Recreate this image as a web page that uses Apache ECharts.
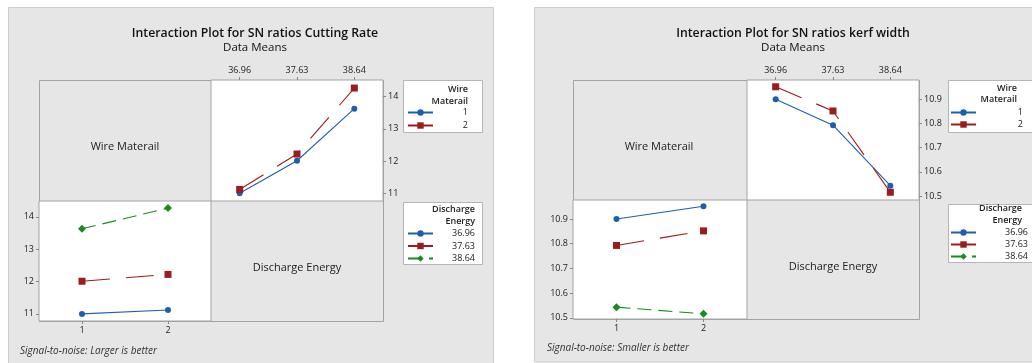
<!DOCTYPE html>
<html><head><meta charset="utf-8">
<script src="https://cdn.jsdelivr.net/npm/echarts@6/dist/echarts.min.js"></script>
<style>html,body{margin:0;padding:0;background:#fff}#c{width:1032px;height:363px}</style>
</head><body><div id="c"></div>
<script>
// ---- data ----
const DE_LEVELS = ['36.96', '37.63', '38.64'];   // Discharge Energy levels
const WM_LEVELS = ['1', '2'];                     // Wire Materail levels
// SN ratios Cutting Rate (means), by wire material, over discharge energy
const CR_WM1 = [11.00, 12.01, 13.63];
const CR_WM2 = [11.12, 12.22, 14.27];
// SN ratios kerf width (means), by wire material, over discharge energy
const KW_WM1 = [10.900, 10.793, 10.543];
const KW_WM2 = [10.952, 10.852, 10.516];
// tick labels
const CR_TICKS = [11, 12, 13, 14];
const KW_TICKS = [10.5, 10.6, 10.7, 10.8, 10.9];

const FONT = '"Open Sans", "Noto Sans", sans-serif';
const BLUE = '#1d5fae', RED = '#9a1c1c', GREEN = '#1b8a22';
const STY = {
  '1':     { color: BLUE, symbol: 'circle', size: 6, type: 'solid' },
  '2':     { color: RED, symbol: 'rect', size: 7, type: [28, 16] },
  '36.96': { color: BLUE, symbol: 'circle', size: 6, type: 'solid' },
  '37.63': { color: RED, symbol: 'rect', size: 7, type: [28, 16] },
  '38.64': { color: GREEN, symbol: 'diamond', size: 8, type: [14, 7] }
};

function mkSeries(name, data, xi) {
  const s = STY[name];
  return {
    type: 'line', name: name, xAxisIndex: xi, yAxisIndex: xi, data: data,
    symbol: s.symbol, symbolSize: s.size, showSymbol: true,
    itemStyle: { color: s.color },
    lineStyle: { color: s.color, width: 1.1, type: s.type },
    animation: false
  };
}
const labelStyle = { fontFamily: FONT, fontSize: 9, color: '#222' };
function catAxis(gi, data, pos) {
  return {
    type: 'category', gridIndex: gi, data: data, position: pos, boundaryGap: true,
    axisLine: { show: false }, splitLine: { show: false },
    axisTick: { show: true, alignWithLabel: true, length: 3, lineStyle: { color: '#888' } },
    axisLabel: Object.assign({ margin: 5 }, labelStyle)
  };
}
function valAxis(gi, pos, min, max, ticks) {
  return {
    type: 'value', gridIndex: gi, position: pos, min: min, max: max, scale: true,
    axisLine: { show: false }, splitLine: { show: false },
    axisTick: { show: true, length: 3, lineStyle: { color: '#888' }, customValues: ticks },
    axisLabel: Object.assign({ margin: 5, customValues: ticks }, labelStyle)
  };
}
const gridStyle = { show: true, backgroundColor: '#fff', borderColor: '#a3a3a3', borderWidth: 1, containLabel: false };

const legendRich = (w) => ({
  formatter: '{a|{name}}',
  textStyle: { rich: { a: { width: w, align: 'right', fontFamily: FONT, fontSize: 9, color: '#222' } } }
});
function mkLegend(names, left, top, w, gap) {
  return Object.assign({
    data: names, orient: 'vertical', left: left, top: top, itemWidth: 25, itemHeight: 8,
    itemGap: gap, padding: 0, selectedMode: false
  }, legendRich(w));
}

function txt(x, y, text, opt) {
  return { type: 'text', x: x, y: y, z: 100, silent: true,
    style: Object.assign({ text: text, fontFamily: FONT, fill: '#222', fontSize: 11, align: 'center', verticalAlign: 'middle' }, opt || {}) };
}
function rect(x, y, w, h, fill, stroke) {
  return { type: 'rect', z: -10, silent: true, shape: { x: x, y: y, width: w, height: h },
    style: { fill: fill, stroke: stroke, lineWidth: 1 } };
}

const PANEL = '#e6e6e6', PANEL_B = '#cdcdcd', BOX_B = '#a3a3a3';

const option = {
  backgroundColor: '#fff',
  animation: false,
  title: [
    { text: 'Interaction Plot for SN ratios Cutting Rate', subtext: 'Data Means', left: 250, top: 22, textAlign: 'center', itemGap: 3,
      textStyle: { fontFamily: FONT, fontSize: 12.3, fontWeight: 600, color: '#111' },
      subtextStyle: { fontFamily: FONT, fontSize: 11.5, fontWeight: 'normal', color: '#111' } },
    { text: 'Interaction Plot for SN ratios kerf width', subtext: 'Data Means', left: 788, top: 22, textAlign: 'center', itemGap: 3,
      textStyle: { fontFamily: FONT, fontSize: 12.3, fontWeight: 600, color: '#111' },
      subtextStyle: { fontFamily: FONT, fontSize: 11.5, fontWeight: 'normal', color: '#111' } }
  ],
  grid: [
    Object.assign({ left: 211, top: 80, width: 172, height: 121 }, gridStyle),
    Object.assign({ left: 39, top: 201, width: 172, height: 120 }, gridStyle),
    Object.assign({ left: 747, top: 80, width: 172, height: 120 }, gridStyle),
    Object.assign({ left: 573, top: 200, width: 174, height: 119 }, gridStyle)
  ],
  xAxis: [
    catAxis(0, DE_LEVELS, 'top'),
    catAxis(1, WM_LEVELS, 'bottom'),
    catAxis(2, DE_LEVELS, 'top'),
    catAxis(3, WM_LEVELS, 'bottom')
  ],
  yAxis: [
    valAxis(0, 'right', 10.76, 14.52, CR_TICKS),
    valAxis(1, 'left', 10.78, 14.49, CR_TICKS),
    valAxis(2, 'right', 10.484, 10.98, KW_TICKS),
    valAxis(3, 'left', 10.495, 10.977, KW_TICKS)
  ],
  legend: [
    mkLegend(WM_LEVELS, 407, 108, 30, 4),
    mkLegend(DE_LEVELS, 407, 229, 37, 3.5),
    mkLegend(WM_LEVELS, 950, 108, 42, 3),
    mkLegend(DE_LEVELS, 950, 228, 47, 3)
  ],
  series: [
    mkSeries('1', CR_WM1, 0),
    mkSeries('2', CR_WM2, 0),
    mkSeries('36.96', [CR_WM1[0], CR_WM2[0]], 1),
    mkSeries('37.63', [CR_WM1[1], CR_WM2[1]], 1),
    mkSeries('38.64', [CR_WM1[2], CR_WM2[2]], 1),
    mkSeries('1', KW_WM1, 2),
    mkSeries('2', KW_WM2, 2),
    mkSeries('36.96', [KW_WM1[0], KW_WM2[0]], 3),
    mkSeries('37.63', [KW_WM1[1], KW_WM2[1]], 3),
    mkSeries('38.64', [KW_WM1[2], KW_WM2[2]], 3)
  ],
  graphic: [{
    type: 'group', z: -10, silent: true,
    children: [
      rect(8.5, 7.5, 485, 360, PANEL, PANEL_B),
      rect(534.5, 7.5, 500, 354.5, PANEL, PANEL_B),
      rect(39.5, 80.5, 344, 241, PANEL, BOX_B),
      rect(573.5, 80.5, 346, 239, PANEL, BOX_B),
      rect(403.5, 80.5, 79, 52, '#fff', '#b5b5b5'),
      rect(403.5, 202.5, 79, 62, '#fff', '#b5b5b5'),
      rect(948.5, 80.5, 84, 52, '#fff', '#b5b5b5'),
      rect(948.5, 204.5, 84, 58, '#fff', '#b5b5b5')
    ]
  }, {
    type: 'group', z: 100, silent: true,
    children: [
      txt(125, 147, 'Wire Materail'),
      txt(297, 268, 'Discharge Energy'),
      txt(659, 147, 'Wire Materail'),
      txt(833, 267, 'Discharge Energy'),
      txt(468, 89, 'Wire', { align: 'right', fontSize: 9, fontWeight: 600 }),
      txt(468, 101, 'Materail', { align: 'right', fontSize: 9, fontWeight: 600 }),
      txt(475, 209, 'Discharge', { align: 'right', fontSize: 9, fontWeight: 600 }),
      txt(475, 221, 'Energy', { align: 'right', fontSize: 9, fontWeight: 600 }),
      txt(1017, 88, 'Wire', { align: 'right', fontSize: 9, fontWeight: 600 }),
      txt(1017, 99, 'Materail', { align: 'right', fontSize: 9, fontWeight: 600 }),
      txt(1022, 208, 'Discharge', { align: 'right', fontSize: 9, fontWeight: 600 }),
      txt(1022, 220, 'Energy', { align: 'right', fontSize: 9, fontWeight: 600 }),
      txt(20, 351, 'Signal-to-noise: Larger is better', { align: 'left', fontSize: 10, fontStyle: 'italic', fill: '#333' }),
      txt(547, 348, 'Signal-to-noise: Smaller is better', { align: 'left', fontSize: 10, fontStyle: 'italic', fill: '#333' })
    ]
  }]
};

const chart = echarts.init(document.getElementById('c'), null, { renderer: 'canvas', width: 1032, height: 363 });
chart.setOption(option);
</script>
</body></html>
